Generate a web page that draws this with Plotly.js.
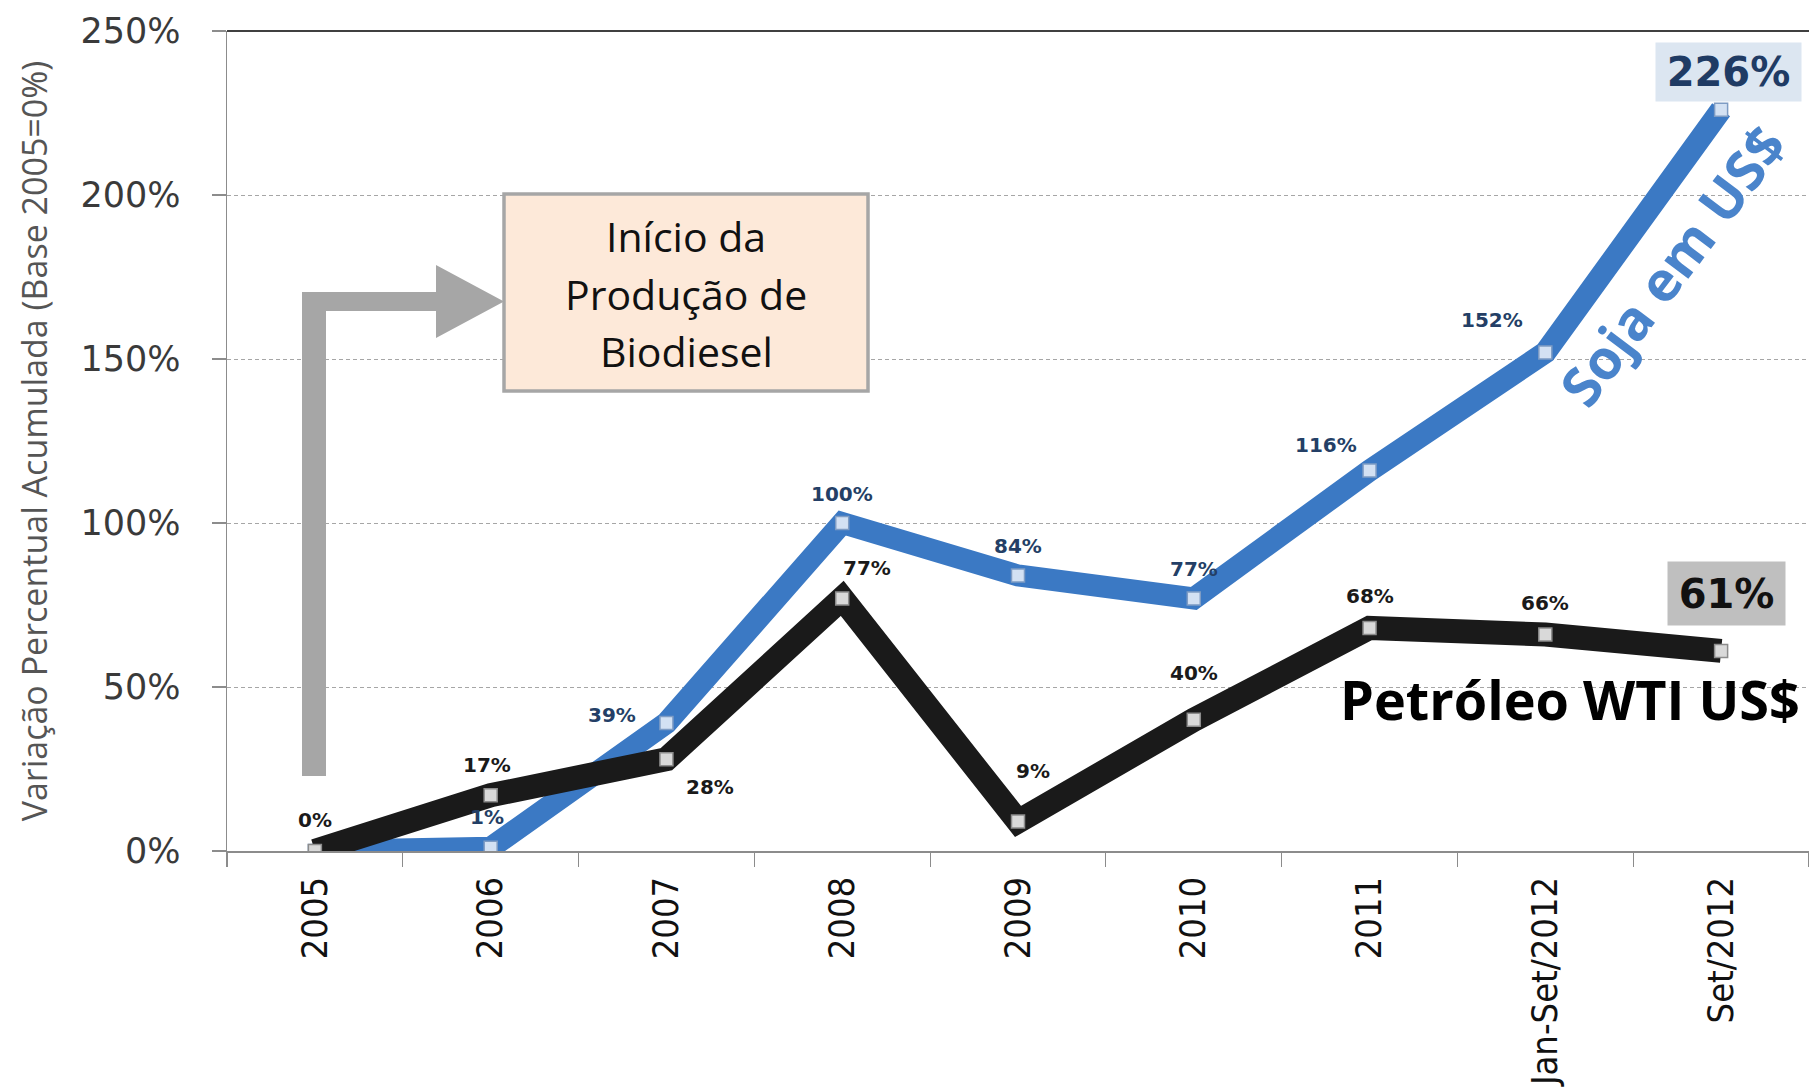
<!DOCTYPE html>
<html><head><meta charset="utf-8">
<script src="https://cdn.plot.ly/plotly-3.0.1.min.js"></script>
<style>html,body{margin:0;padding:0;background:#fff;overflow:hidden}#chart{width:1809px;height:1090px}</style>
</head><body><div id="chart"></div>
<script>
// ---- data ----
const categories = ["2005","2006","2007","2008","2009","2010","2011","Jan-Set/2012","Set/2012"];
const soja = [0, 1, 39, 100, 84, 77, 116, 152, 226];
const petroleo = [0, 17, 28, 77, 9, 40, 68, 66, 61];
const yTickVals = [0, 50, 100, 150, 200, 250];
const yTickText = ["0%", "50%", "100%", "150%", "200%", "250%"];
const sojaName = "Soja em US$";
const petroleoName = "Petróleo WTI US$";
const boxLines = ["Início da", "Produção de", "Biodiesel"];
const yTitle = "Variação Percentual Acumulada (Base 2005=0%)";
const sourceNote = "Elaboração: MME. Fonte: Energy Track (USD (Soja Brasil), MME (Petróleo), BACEN (taxa de câmbio))";

// ---- label offsets (style, px) ----
const sojaShift = [null, [-4, 31], [-54, 8], [0, 29], [0, 29], [0, 29], [-44, 26], [-53, 32], null];
const petShift  = [[0, 31], [-4, 30], [44, -28], [25, 30], [15, 50], [0, 47], [0, 32], [0, 32], null];

// ---- geometry helpers for decorations (pixel -> paper) ----
const L = 227, T = 31, W = 1582, H = 820;
const px = x => (x - L) / W;
const py = y => (T + H - y) / H;

const blue = "#3B79C4";
const dark = "#1A1A1A";

const traces = [
  {x: categories, y: soja, type: "scatter", mode: "lines+markers", name: sojaName,
   line: {color: blue, width: 22}, marker: {symbol: "square", size: 13, color: "#D3E1F3", line: {color: "#7E9CC4", width: 1.5}},
   hoverinfo: "skip"},
  {x: categories, y: petroleo, type: "scatter", mode: "lines+markers", name: petroleoName,
   line: {color: dark, width: 24}, marker: {symbol: "square", size: 13, color: "#D9D9D9", line: {color: "#8C8C8C", width: 1.5}},
   hoverinfo: "skip"}
];

function pointLabels(values, shifts, color) {
  const out = [];
  values.forEach((v, i) => {
    if (!shifts[i]) return;
    out.push({x: i, y: v, xref: "x", yref: "y", text: v + "%", showarrow: false,
      xanchor: "center", yanchor: "middle",
      xshift: shifts[i][0], yshift: shifts[i][1],
      font: {family: "DejaVu Sans", size: 20, weight: "bold", color: color}});
  });
  return out;
}

const last = categories.length - 1;
const paperText = (x, y, text, font, extra) => Object.assign({x: px(x), y: py(y), xref: "paper", yref: "paper",
  xanchor: "center", yanchor: "middle", text: text, showarrow: false, font: font}, extra || {});

const annotations = [
  ...pointLabels(soja, sojaShift, "#243F66"),
  ...pointLabels(petroleo, petShift, "#1A1A1A"),
  {x: last, y: soja[last], xref: "x", yref: "y", text: soja[last] + "%", showarrow: false,
   xanchor: "center", yanchor: "middle",
   xshift: 7, yshift: 38, bgcolor: "#DCE6F1", width: 145, height: 58, borderpad: 0,
   font: {family: "DejaVu Sans", size: 40, weight: "bold", color: "#1F3B64"}},
  {x: last, y: petroleo[last], xref: "x", yref: "y", text: petroleo[last] + "%", showarrow: false,
   xanchor: "center", yanchor: "middle",
   xshift: 5, yshift: 57, bgcolor: "#BFBFBF", width: 117, height: 63, borderpad: 0,
   font: {family: "DejaVu Sans", size: 40, weight: "bold", color: "#111111"}},
  paperText(1671, 265, sojaName, {family: "Open Sans", size: 55, weight: "bold", color: "#4A84CB"}, {textangle: -53}),
  paperText(1570, 699, petroleoName, {family: "Open Sans", size: 54, weight: "bold", color: "#000000"}),
  ...boxLines.map((t, i) => paperText(686, [236, 294, 351][i], t, {family: "Open Sans", size: 41, color: "#111111"})),
  {x: px(-6), y: py(1082), xref: "paper", yref: "paper", xanchor: "left", yanchor: "top", text: sourceNote, showarrow: false,
   font: {family: "Open Sans", size: 24, color: "#8C8C8C"}}
];

const arrowPath = [
  "M", px(302), py(776), "L", px(302), py(292), "L", px(436), py(292), "L", px(436), py(265),
  "L", px(504), py(301.5), "L", px(436), py(338), "L", px(436), py(311), "L", px(326), py(311),
  "L", px(326), py(776), "Z"
].join(" ");

const shapes = [
  {type: "line", xref: "paper", yref: "paper", x0: 0, x1: 1, y0: 1, y1: 1, line: {color: "#404040", width: 2}},
  {type: "path", xref: "paper", yref: "paper", path: arrowPath, fillcolor: "#A6A6A6", line: {width: 0}},
  {type: "rect", xref: "paper", yref: "paper", x0: px(504), x1: px(868), y0: py(391), y1: py(194),
   fillcolor: "#FDE9D9", line: {color: "#A6A6A6", width: 3.5}, layer: "above"}
];

const layout = {
  width: 1809, height: 1090,
  margin: {l: L, r: 0, t: T, b: 1090 - T - H, pad: 0},
  paper_bgcolor: "#FFFFFF", plot_bgcolor: "#FFFFFF",
  showlegend: false,
  xaxis: {
    type: "category", range: [-0.5, categories.length - 0.5], fixedrange: true,
    showgrid: false, zeroline: false, showline: true, linecolor: "#8C8C8C", linewidth: 1.5,
    ticks: "outside", tickson: "boundaries", ticklen: 14, tickcolor: "#8C8C8C", tickwidth: 1.2,
    tickangle: -90, ticklabelstandoff: 10,
    tickfont: {family: "Liberation Sans Narrow, DejaVu Sans Condensed, sans-serif", size: 36, color: "#111111"}
  },
  yaxis: {
    range: [0, 250], fixedrange: true, tickvals: yTickVals, ticktext: yTickText,
    showgrid: true, gridcolor: "#A6A6A6", gridwidth: 1, griddash: "4px,3px",
    zeroline: false, showline: true, linecolor: "#8C8C8C", linewidth: 1.5,
    ticks: "outside", ticklen: 14, tickcolor: "#8C8C8C", tickwidth: 1.2, ticklabelstandoff: 24,
    tickfont: {family: "DejaVu Sans", size: 35, color: "#3A3A3A"},
    title: {text: yTitle, standoff: 22, font: {family: "Open Sans", size: 34, color: "#555555"}}
  },
  annotations: annotations,
  shapes: shapes
};

Plotly.newPlot("chart", traces, layout, {displayModeBar: false, staticPlot: true});
</script>
</body></html>
